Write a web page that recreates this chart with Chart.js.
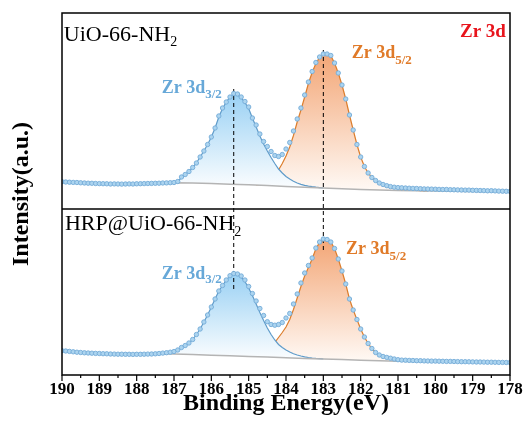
<!DOCTYPE html>
<html lang="en">
<head>
  <meta charset="UTF-8">
  <title>Zr 3d XPS</title>
  <script src="https://cdn.jsdelivr.net/npm/chart.js"></script>
  <style>
    body {
      margin: 0;
      background-color: #ffffff;
    }

    #xps {
      display: block;
    }
  </style>
</head>
<body>
  <canvas id="xps" width="527" height="438"></canvas>

  <script>
    // binding energy of every measured point (eV)
    const energy = [
      190.0, 189.9, 189.8, 189.7, 189.6, 189.5, 189.4, 189.3, 189.2, 189.1,
      189.0, 188.9, 188.8, 188.7, 188.6, 188.5, 188.4, 188.3, 188.2, 188.1,
      188.0, 187.9, 187.8, 187.7, 187.6, 187.5, 187.4, 187.3, 187.2, 187.1,
      187.0, 186.9, 186.8, 186.7, 186.6, 186.5, 186.4, 186.3, 186.2, 186.1,
      186.0, 185.9, 185.8, 185.7, 185.6, 185.5, 185.4, 185.3, 185.2, 185.1,
      185.0, 184.9, 184.8, 184.7, 184.6, 184.5, 184.4, 184.3, 184.2, 184.1,
      184.0, 183.9, 183.8, 183.7, 183.6, 183.5, 183.4, 183.3, 183.2, 183.1,
      183.0, 182.9, 182.8, 182.7, 182.6, 182.5, 182.4, 182.3, 182.2, 182.1,
      182.0, 181.9, 181.8, 181.7, 181.6, 181.5, 181.4, 181.3, 181.2, 181.1,
      181.0, 180.9, 180.8, 180.7, 180.6, 180.5, 180.4, 180.3, 180.2, 180.1,
      180.0, 179.9, 179.8, 179.7, 179.6, 179.5, 179.4, 179.3, 179.2, 179.1,
      179.0, 178.9, 178.8, 178.7, 178.6, 178.5, 178.4, 178.3, 178.2, 178.1,
      178.0
    ];

    // UiO-66-NH2 (upper panel), measured intensity
    const topCounts = [
      27.3, 27.0, 26.8, 26.6, 26.5, 26.2, 26.0, 25.8, 25.7, 25.5,
      25.4, 25.3, 25.2, 25.0, 25.1, 25.0, 24.9, 25.0, 25.1, 25.0,
      25.2, 25.3, 25.4, 25.5, 25.6, 25.7, 25.8, 26.0, 26.1, 26.3,
      26.5, 27.5, 32.0, 34.5, 37.5, 41.5, 46.0, 52.0, 58.0, 64.5,
      72.0, 81.0, 93.0, 101.0, 107.0, 112.0, 115.5, 115.0, 112.0, 107.5,
      102.0, 91.0, 84.0, 75.0, 67.5, 62.5, 57.5, 53.5, 52.5, 54.5,
      60.0, 66.5, 78.0, 90.0, 101.0, 114.0, 127.0, 137.5, 146.5, 152.0,
      155.0, 155.0, 153.5, 146.0, 136.0, 124.0, 110.0, 94.0, 79.0, 64.5,
      52.0, 42.5, 36.0, 31.5, 28.5, 26.0, 24.5, 23.3, 22.4, 21.8,
      21.4, 21.2, 21.0, 20.8, 20.6, 20.5, 20.3, 20.1, 20.0, 19.9,
      19.8, 19.6, 19.5, 19.5, 19.3, 19.2, 19.1, 19.0, 18.9, 18.9,
      18.7, 18.6, 18.5, 18.4, 18.2, 18.3, 18.1, 17.9, 17.8, 17.7,
      17.6
    ];

    // HRP@UiO-66-NH2 (lower panel), measured intensity
    const bottomCounts = [
      24.3, 24.0, 23.6, 23.2, 22.8, 22.5, 22.2, 22.0, 21.8, 21.6,
      21.5, 21.3, 21.2, 21.0, 20.9, 20.8, 20.8, 20.7, 20.7, 20.6,
      20.7, 20.7, 20.8, 20.9, 21.0, 21.2, 21.5, 21.9, 22.3, 22.8,
      23.5, 25.0, 27.5, 29.5, 32.0, 35.5, 40.5, 46.0, 53.0, 60.0,
      68.0, 76.0, 84.0, 89.5, 95.0, 99.3, 101.5, 101.0, 99.0, 95.0,
      88.5, 81.5, 74.0, 66.5, 59.5, 53.3, 50.5, 49.8, 50.5, 52.5,
      57.0, 61.5, 71.0, 81.0, 92.0, 102.0, 109.5, 117.0, 127.0, 133.0,
      136.0, 135.5, 133.0, 126.5, 116.0, 104.0, 91.0, 76.0, 65.0, 55.5,
      46.0, 38.0, 31.5, 26.5, 22.5, 20.0, 18.5, 17.6, 16.8, 16.0,
      15.3, 14.9, 14.8, 14.6, 14.5, 14.3, 14.3, 14.1, 14.0, 13.9,
      13.9, 13.8, 13.7, 13.6, 13.6, 13.5, 13.4, 13.3, 13.3, 13.2,
      13.1, 13.0, 13.0, 12.9, 12.8, 12.8, 12.7, 12.6, 12.6, 12.5,
      12.5
    ];

    // background (Shirley-like) under each spectrum
    const bgEnergy = [190, 188.5, 187.5, 187, 186.5, 186, 185.5, 185, 184.5, 184,
                      183.5, 183, 182.5, 182, 181.5, 181, 180.5, 180, 179, 178];
    const topBackground = [27.3, 25.0, 25.7, 26.3, 25.9, 25.4, 24.8, 24.2, 23.5, 22.6,
                           21.8, 21.0, 20.3, 19.6, 19.0, 18.5, 18.2, 18.0, 17.6, 17.2];
    const bottomBackground = [24.3, 20.8, 21.2, 21.0, 20.4, 19.8, 19.2, 18.5, 17.9, 17.2,
                              16.6, 16.0, 15.4, 14.8, 14.3, 13.8, 13.5, 13.2, 12.8, 12.4];

    // Zr 3d3/2 fitted component
    const blueEnergy = [
      187.0, 186.9, 186.8, 186.7, 186.6, 186.5, 186.4, 186.3, 186.2, 186.1,
      186.0, 185.9, 185.8, 185.7, 185.6, 185.5, 185.4, 185.3, 185.2, 185.1,
      185.0, 184.9, 184.8, 184.7, 184.6, 184.5, 184.4, 184.3, 184.2, 184.1,
      184.0, 183.9, 183.8, 183.7, 183.6, 183.5, 183.4, 183.3, 183.2, 183.1,
      183.0
    ];
    const topBlue = [
      26.3, 27.3, 31.5, 34.5, 37.5, 41.5, 46.0, 52.0, 58.0, 64.5,
      72.0, 81.0, 92.0, 100.5, 107.0, 112.0, 115.3, 114.5, 111.3, 106.5,
      100.5, 91.0, 82.0, 73.0, 65.0, 58.0, 51.5, 45.5, 40.0, 36.0,
      32.5, 30.0, 27.8, 26.0, 24.6, 23.6, 22.9, 22.3, 21.8, 21.4,
      21.0
    ];
    const bottomBlue = [
      22.0, 25.0, 27.5, 29.5, 32.0, 35.5, 40.5, 46.0, 53.0, 60.0,
      68.0, 76.0, 84.0, 89.5, 95.0, 99.3, 101.3, 100.5, 98.0, 93.5,
      87.0, 79.5, 71.0, 62.5, 54.5, 47.0, 40.5, 35.0, 30.5, 27.5,
      25.0, 23.0, 21.3, 20.0, 19.0, 18.2, 17.5, 17.0, 16.6, 16.3,
      16.0
    ];

    // Zr 3d5/2 fitted component
    const orangeEnergy = [
      184.8, 184.7, 184.6, 184.5, 184.4, 184.3, 184.2, 184.1, 184.0,
      183.9, 183.8, 183.7, 183.6, 183.5, 183.4, 183.3, 183.2, 183.1, 183.0,
      182.9, 182.8, 182.7, 182.6, 182.5, 182.4, 182.3, 182.2, 182.1, 182.0,
      181.9, 181.8, 181.7, 181.6, 181.5, 181.4, 181.3, 181.2, 181.1, 181.0,
      180.9, 180.8, 180.7, 180.6, 180.5, 180.4, 180.3, 180.2
    ];
    const topOrange = [
      24.0, 24.6, 25.6, 27.0, 30.0, 34.0, 39.0, 45.5, 53.0,
      62.0, 73.5, 87.0, 99.0, 112.0, 125.5, 136.5, 145.5, 151.5, 154.7,
      154.8, 153.3, 146.0, 136.0, 124.0, 110.0, 94.0, 79.0, 64.5, 52.0,
      42.5, 36.0, 31.5, 28.3, 25.8, 24.2, 23.0, 22.0, 21.3, 20.7,
      20.2, 19.7, 19.3, 18.9, 18.6, 18.4, 18.2, 18.1
    ];
    const bottomOrange = [
      18.6, 19.6, 21.2, 24.0, 28.0, 32.5, 37.5, 42.5, 48.0,
      55.5, 65.5, 77.0, 88.5, 99.0, 107.5, 116.0, 126.3, 132.5, 135.7,
      135.3, 133.0, 126.5, 116.0, 104.0, 91.0, 76.0, 65.0, 55.5, 46.0,
      38.0, 31.5, 26.5, 22.5, 20.0, 18.4, 17.4, 16.5, 15.7, 15.1,
      14.7, 14.4, 14.1, 13.9, 13.7, 13.6, 13.5, 13.4
    ];

    // dashed guides through the two peak maxima
    const peakCenters = [185.4, 183.0];
    const guideTop = [120, 159];     // upper-panel intensity where a guide starts
    const guideBottom = [83, 123];   // lower-panel intensity where it ends

    // the upper spectrum sits above the lower one on a shared intensity axis
    const SPLIT = 166;
    const Y_MAX = 362;

    const SERIF = '"Liberation Serif", "Times New Roman", serif';
    const BLUE_TEXT = '#67a8d8';
    const ORANGE_TEXT = '#e07a28';

    const pts = (xs, ys, off) => xs.map((x, i) => ({ x, y: ys[i] + off }));

    function fillGradient(topVal, baseVal, peakColor, baseColor) {
      return (c) => {
        const chart = c.chart;
        if (!chart.chartArea) return peakColor;
        const y = chart.scales.y;
        const g = chart.ctx.createLinearGradient(0, y.getPixelForValue(topVal), 0, y.getPixelForValue(baseVal));
        g.addColorStop(0, peakColor);
        g.addColorStop(1, baseColor);
        return g;
      };
    }

    const BLUE_PEAK = '#9ad1f4';
    const ORANGE_PEAK = '#f3a676';

    const pointStyle = {
      showLine: false, order: 1,
      pointRadius: 2.2, pointBackgroundColor: '#acd4ef', pointBorderColor: '#74acd8', pointBorderWidth: 0.9
    };

    const datasets = [
      // 0, 1: measured points
      { data: pts(energy, topCounts, SPLIT), ...pointStyle },
      { data: pts(energy, bottomCounts, 0), ...pointStyle },
      // 2, 3: backgrounds
      { data: pts(bgEnergy, topBackground, SPLIT), borderColor: '#b4b4b4', borderWidth: 1.5, pointRadius: 0, order: 4 },
      { data: pts(bgEnergy, bottomBackground, 0), borderColor: '#b4b4b4', borderWidth: 1.5, pointRadius: 0, order: 4 },
      // 4, 5: Zr 3d3/2
      {
        data: pts(blueEnergy, topBlue, SPLIT), borderColor: '#5f9bc9', borderWidth: 1.2, pointRadius: 0, order: 5,
        fill: { target: 2 },
        backgroundColor: fillGradient(Math.max(...topBlue) + SPLIT, Math.min(...topBackground) + SPLIT, BLUE_PEAK, '#ffffff')
      },
      {
        data: pts(blueEnergy, bottomBlue, 0), borderColor: '#5f9bc9', borderWidth: 1.2, pointRadius: 0, order: 5,
        fill: { target: 3 },
        backgroundColor: fillGradient(Math.max(...bottomBlue), Math.min(...bottomBackground), BLUE_PEAK, '#ffffff')
      },
      // 6, 7: Zr 3d5/2
      {
        data: pts(orangeEnergy, topOrange, SPLIT), borderColor: '#dc7d2c', borderWidth: 1.2, pointRadius: 0, order: 6,
        fill: { target: 2 },
        backgroundColor: fillGradient(Math.max(...topOrange) + SPLIT, Math.min(...topBackground) + SPLIT, ORANGE_PEAK, '#fffaf6')
      },
      {
        data: pts(orangeEnergy, bottomOrange, 0), borderColor: '#dc7d2c', borderWidth: 1.2, pointRadius: 0, order: 6,
        fill: { target: 3 },
        backgroundColor: fillGradient(Math.max(...bottomOrange), Math.min(...bottomBackground), ORANGE_PEAK, '#fffaf6')
      }
    ];

    peakCenters.forEach((e, i) => {
      datasets.push({
        data: [{ x: e, y: guideTop[i] + SPLIT }, { x: e, y: guideBottom[i] }],
        borderColor: '#000000', borderWidth: 1, borderDash: [4, 3], pointRadius: 0, order: 3
      });
    });

    // text placed in data coordinates: [text, font, baseline shift]
    const notes = [
      { panel: 'top', x: 189.95, y: 168, color: '#000000', align: 'left',
        parts: [['UiO-66-NH', '22px', 0], ['2', '14px', 4.5]] },
      { panel: 'bottom', x: 189.92, y: 145, color: '#000000', align: 'left',
        parts: [['HRP@UiO-66-NH', '22px', 0], ['2', '14px', 5.5]] },
      { panel: 'top', x: 178.11, y: 172.3, color: '#e8141c', align: 'right',
        parts: [['Zr 3d', 'bold 19px', 0]] },
      { panel: 'top', x: 187.33, y: 116, color: BLUE_TEXT, align: 'left',
        parts: [['Zr 3d', 'bold 18px', 0], ['3/2', 'bold 13px', 4.5]] },
      { panel: 'bottom', x: 187.33, y: 96.5, color: BLUE_TEXT, align: 'left',
        parts: [['Zr 3d', 'bold 18px', 0], ['3/2', 'bold 13px', 4.5]] },
      { panel: 'top', x: 182.24, y: 151.5, color: ORANGE_TEXT, align: 'left',
        parts: [['Zr 3d', 'bold 18px', 0], ['5/2', 'bold 13px', 6]] },
      { panel: 'bottom', x: 182.39, y: 121, color: ORANGE_TEXT, align: 'left',
        parts: [['Zr 3d', 'bold 18px', 0], ['5/2', 'bold 13px', 6]] }
    ];

    const framePlugin = {
      id: 'frame',
      afterDraw(chart) {
        const { ctx, chartArea: a, scales: { x, y } } = chart;
        ctx.save();
        ctx.strokeStyle = '#000000';
        ctx.lineWidth = 1.5;
        ctx.strokeRect(a.left, a.top, a.right - a.left, a.bottom - a.top);

        const mid = y.getPixelForValue(SPLIT);
        ctx.beginPath();
        ctx.moveTo(a.left, mid);
        ctx.lineTo(a.right, mid);
        ctx.stroke();

        // outward ticks: integers long, halves short
        ctx.lineWidth = 1.2;
        for (let v = x.min; v <= x.max + 0.001; v += 0.5) {
          const px = x.getPixelForValue(v);
          const len = Math.abs(v - Math.round(v)) < 0.01 ? 6 : 3;
          ctx.beginPath();
          ctx.moveTo(px, a.bottom);
          ctx.lineTo(px, a.bottom + len);
          ctx.stroke();
        }

        ctx.textBaseline = 'alphabetic';
        notes.forEach(n => {
          const off = n.panel === 'top' ? SPLIT : 0;
          let px = x.getPixelForValue(n.x);
          const py = y.getPixelForValue(n.y + off);
          let total = 0;
          n.parts.forEach(([t, f]) => {
            ctx.font = f + ' ' + SERIF;
            total += ctx.measureText(t).width;
          });
          if (n.align === 'right') px -= total;
          ctx.fillStyle = n.color;
          ctx.textAlign = 'left';
          n.parts.forEach(([t, f, dy]) => {
            ctx.font = f + ' ' + SERIF;
            ctx.fillText(t, px, py + dy);
            px += ctx.measureText(t).width;
          });
        });
        ctx.restore();
      }
    };

    new Chart(document.getElementById('xps').getContext('2d'), {
      type: 'line',
      data: { datasets },
      options: {
        responsive: false,
        animation: false,
        devicePixelRatio: 1,
        layout: { padding: { top: 13, right: 17, left: 0, bottom: 0 } },
        elements: { line: { tension: 0 } },
        plugins: {
          legend: { display: false },
          tooltip: { enabled: false },
          filler: { drawTime: 'beforeDatasetDraw' }
        },
        scales: {
          x: {
            type: 'linear',
            reverse: true,
            min: 178,
            max: 190,
            afterFit: (scale) => { scale.height = 63; },
            grid: { display: false, drawTicks: false },
            border: { display: false },
            ticks: {
              stepSize: 1,
              padding: 4,
              color: '#000000',
              font: { family: SERIF, size: 17, weight: 'bold' }
            },
            title: {
              display: true,
              text: 'Binding Energy(eV)',
              color: '#000000',
              padding: { top: 0, bottom: 20 },
              font: { family: SERIF, size: 24, weight: 'bold' }
            }
          },
          y: {
            min: 0,
            max: Y_MAX,
            afterFit: (scale) => { scale.width = 62; },
            grid: { display: false, drawTicks: false },
            border: { display: false },
            ticks: { display: false },
            title: {
              display: true,
              text: 'Intensity(a.u.)',
              color: '#000000',
              padding: { top: 7, bottom: 0 },
              font: { family: SERIF, size: 24, weight: 'bold' }
            }
          }
        }
      },
      plugins: [framePlugin]
    });
  </script>
</body>
</html>
